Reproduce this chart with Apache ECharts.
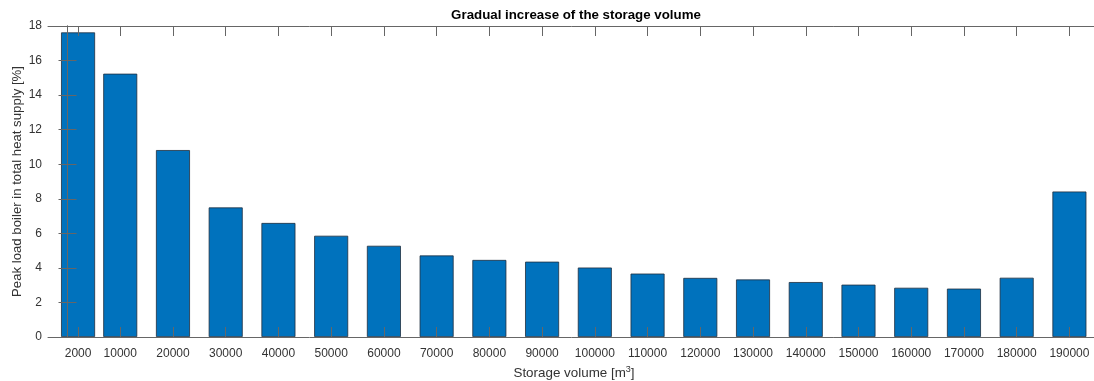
<!DOCTYPE html>
<html>
<head>
<meta charset="utf-8">
<script src="https://cdn.jsdelivr.net/npm/echarts@6/dist/echarts.min.js"></script>
<style>
  html, body { margin: 0; padding: 0; background: #fff; }
  #chart { width: 1094px; height: 381px; }
</style>
</head>
<body>
<div id="chart"></div>
<script>
// Storage volume steps [m3]
const storageVolumes = [2000, 10000, 20000, 30000, 40000, 50000, 60000, 70000, 80000, 90000,
  100000, 110000, 120000, 130000, 140000, 150000, 160000, 170000, 180000, 190000];
// Share of the peak load boiler in the total heat supply [%]
const peakLoadShare = [17.63, 15.24, 10.82, 7.50, 6.60, 5.86, 5.28, 4.72, 4.46, 4.36,
  4.02, 3.67, 3.42, 3.33, 3.18, 3.03, 2.85, 2.80, 3.43, 8.42];
// Y tick labels
const yTicks = [0, 2, 4, 6, 8, 10, 12, 14, 16, 18];

const FONT = '"Liberation Sans", Arial, Helvetica, sans-serif';
const AX = '#666666';
const TXT = '#333333';

const barData = storageVolumes.map((v, i) => [v, peakLoadShare[i]]);

const baseX = {
  type: 'value',
  min: -3700,
  max: 195800,
  splitLine: { show: false },
  axisLine: { show: true, onZero: false, lineStyle: { color: AX, width: 1 } },
  axisTick: { show: true, inside: true, length: 10, customValues: storageVolumes, lineStyle: { color: AX, width: 1 } },
  z: 10
};
const baseY = {
  type: 'value',
  min: yTicks[0],
  max: yTicks[yTicks.length - 1],
  interval: 2,
  splitLine: { show: false },
  axisLine: { show: true, lineStyle: { color: AX, width: 1 } },
  axisTick: { show: true, inside: true, length: 9, lineStyle: { color: AX, width: 1 } },
  z: 10
};

const chart = echarts.init(document.getElementById('chart'), null, { renderer: 'canvas' });
chart.setOption({
  animation: false,
  backgroundColor: '#ffffff',
  title: {
    text: 'Gradual increase of the storage volume',
    left: 571,
    textAlign: 'center',
    top: 4,
    textStyle: { fontFamily: FONT, fontSize: 13.3, fontWeight: 'bold', color: '#000' }
  },
  grid: { left: 48, right: -6, top: 26, bottom: 44, containLabel: false, outerBoundsMode: 'none' },
  xAxis: [
    Object.assign({}, baseX, {
      position: 'bottom',
      axisLabel: {
        show: true, customValues: storageVolumes, margin: 11,
        formatter: v => String(v),
        fontFamily: FONT, fontSize: 12, color: TXT
      },
      name: '{a|Storage volume [m}{s|3}{a|]}',
      nameLocation: 'middle',
      nameGap: 28,
      nameTextStyle: {
        rich: {
          a: { fontFamily: FONT, fontSize: 13.4, color: TXT },
          s: { fontFamily: FONT, fontSize: 9, color: TXT, verticalAlign: 'top', padding: [0, 0, 7, 0] }
        }
      }
    }),
    Object.assign({}, baseX, { position: 'top', axisLabel: { show: false } })
  ],
  yAxis: [
    Object.assign({}, baseY, {
      position: 'left',
      axisLabel: { show: true, margin: 6, fontFamily: FONT, fontSize: 12, color: TXT },
      name: 'Peak load boiler in total heat supply [%]',
      nameLocation: 'middle',
      nameMoveOverlap: false,
      nameGap: 24,
      nameTextStyle: { fontFamily: FONT, fontSize: 13.2, color: TXT }
    }),
    Object.assign({}, baseY, { position: 'right', axisLabel: { show: false } })
  ],
  series: [{
    type: 'bar',
    xAxisIndex: 0,
    yAxisIndex: 0,
    data: barData,
    barWidth: 34,
    itemStyle: { color: '#0072BD', borderColor: '#1f2f3f', borderWidth: 0.8 },
    z: 2
  }]
});
</script>
</body>
</html>
